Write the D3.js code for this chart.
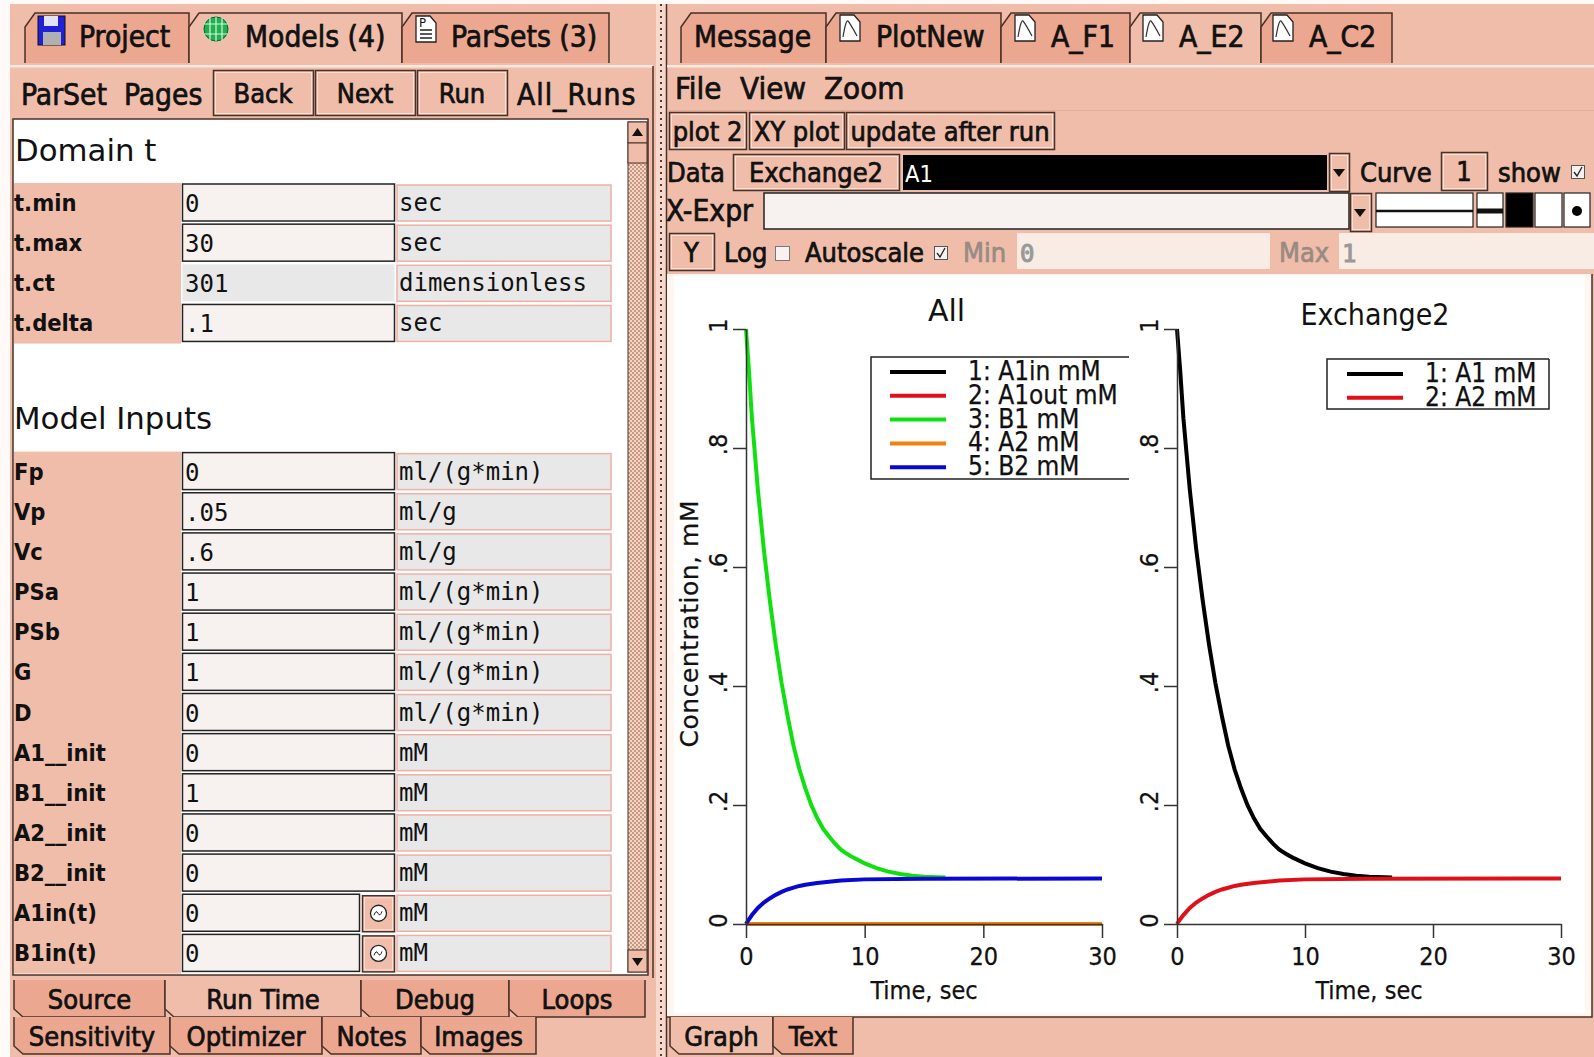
<!DOCTYPE html>
<html>
<head>
<meta charset="utf-8">
<title>A_E2</title>
<script src="https://cdn.jsdelivr.net/npm/d3@7"></script>
<style>
  html, body { margin: 0; padding: 0; background: #efbda9; }
  svg { display: block; }
  text { fill: #111; white-space: pre; }
  .ui { font-family: "DejaVu Sans Condensed", "DejaVu Sans", sans-serif; font-size: 27px; stroke: #111; stroke-width: 0.7px; }
  .big { font-size: 29.7px; }
  .lab { font-family: "DejaVu Sans Condensed", "DejaVu Sans", sans-serif; font-weight: bold; font-size: 23.5px; }
  .mono { font-family: "DejaVu Sans Mono", monospace; font-size: 24px; }
  .head { font-family: "DejaVu Sans", sans-serif; font-size: 30.8px; }
  .plot { font-family: "DejaVu Sans Condensed", "DejaVu Sans", sans-serif; font-size: 25px; stroke: #111; stroke-width: 0.25px; }
  .tick text { font-family: "DejaVu Sans Condensed", "DejaVu Sans", sans-serif; font-size: 25px; stroke: #111; stroke-width: 0.25px; }
</style>
</head>
<body>
<svg id="app" width="1594" height="1057"></svg>
<script>
// curve values
var decayTimes = [0, 0.25, 0.5, 1, 1.5, 2, 2.5, 3, 3.5, 4, 4.5, 5, 5.5, 6, 6.5, 7, 7.5, 8, 8.5, 9, 10, 11, 12, 13, 14, 15, 16.8];
var decayValues = [1, 0.93, 0.85, 0.73, 0.63, 0.545, 0.47, 0.405, 0.35, 0.3, 0.26, 0.228, 0.2, 0.178, 0.16, 0.147, 0.135, 0.125, 0.118, 0.112, 0.102, 0.094, 0.088, 0.084, 0.081, 0.0795, 0.078];
var riseTimes = [0, 0.25, 0.5, 1, 1.5, 2, 2.5, 3, 3.5, 4, 4.5, 5, 6, 7, 8, 10, 15, 30];
var riseValues = [0, 0.008, 0.015, 0.027, 0.036, 0.043, 0.049, 0.054, 0.058, 0.061, 0.064, 0.066, 0.069, 0.071, 0.073, 0.075, 0.076, 0.0765];
var flatTimes = [0, 30];
var flatValues = [0, 0];

var xTicks = [0, 10, 20, 30];
var yTicks = [0, 0.2, 0.4, 0.6, 0.8, 1];
var allNames = ['1: A1in mM', '2: A1out mM', '3: B1 mM', '4: A2 mM', '5: B2 mM'];
var exchangeNames = ['1: A1 mM', '2: A2 mM'];
var curveColors = ['#000000', '#e0101a', '#10e010', '#f08010', '#0808d0'];

// parameter tables: name, value, unit
var domainNames = ['t.min', 't.max', 't.ct', 't.delta'];
var domainValues = ['0', '30', '301', '.1'];
var domainUnits = ['sec', 'sec', 'dimensionless', 'sec'];
var inputNames = ['Fp', 'Vp', 'Vc', 'PSa', 'PSb', 'G', 'D', 'A1__init', 'B1__init', 'A2__init', 'B2__init', 'A1in(t)', 'B1in(t)'];
var inputValues = ['0', '.05', '.6', '1', '1', '1', '0', '0', '1', '0', '0', '0', '0'];
var inputUnits = ['ml/(g*min)', 'ml/g', 'ml/g', 'ml/(g*min)', 'ml/(g*min)', 'ml/(g*min)', 'ml/(g*min)', 'mM', 'mM', 'mM', 'mM', 'mM', 'mM'];

var topTabs = ['Project', 'Models (4)', 'ParSets (3)'];
var topTabEdges = [25, 189, 402, 609];
var plotTabs = ['Message', 'PlotNew', 'A_F1', 'A_E2', 'A_C2'];
var plotTabEdges = [681, 826, 1001, 1130, 1261, 1392];
var lowerTabs1 = ['Source', 'Run Time', 'Debug', 'Loops'];
var lowerEdges1 = [14, 165, 361, 509, 645];
var lowerTabs2 = ['Sensitivity', 'Optimizer', 'Notes', 'Images'];
var lowerEdges2 = [14, 170, 322, 421, 536];

var BG = '#efbda9', TAB = '#eba78f', EDGE = '#4a3028', FIELD = '#f7f2ef', GREY = '#e8e8e8', LIGHT = '#fbe9e0';

var svg = d3.select('#app');

var defs = svg.append('defs');
var stipple = defs.append('pattern').attr('id', 'stipple').attr('width', 4).attr('height', 4)
  .attr('patternUnits', 'userSpaceOnUse');
stipple.append('rect').attr('width', 4).attr('height', 4).attr('fill', '#f2d5c6');
stipple.append('rect').attr('width', 2).attr('height', 2).attr('fill', '#c99a80');
stipple.append('rect').attr('x', 2).attr('y', 2).attr('width', 2).attr('height', 2).attr('fill', '#c99a80');

function box(x, y, w, h, fill, stroke, sw) {
  return svg.append('rect').attr('x', x).attr('y', y).attr('width', w).attr('height', h)
    .attr('fill', fill || 'none').attr('stroke', stroke || 'none').attr('stroke-width', sw || 1);
}

function label(x, y, str, cls, anchor, color) {
  var t = svg.append('text').attr('x', x).attr('y', y).attr('class', cls || 'ui')
    .attr('text-anchor', anchor || 'start').text(str);
  if (color) t.style('fill', color).style('stroke', color);
  return t;
}

function button(x, y, w, h, str) {
  box(x + 0.5, y + 0.5, w, h, BG, EDGE, 1.5);
  box(x + 2.5, y + 2.5, w - 4, h - 4, 'none', '#fae0d5', 1);
  if (str) label(x + w / 2, y + h / 2 + 10, str, 'ui', 'middle');
}

function checkbox(x, y) {
  box(x + 0.5, y + 0.5, 13, 13, '#f7f2ef', '#555', 1);
  svg.append('path').attr('d', 'M' + (x + 3) + ' ' + (y + 7) + 'l3 4l5 -9').attr('fill', 'none').attr('stroke', '#222').attr('stroke-width', 1.3);
}

// tabs hanging from the top edge, corner cut at the top left
function topTabRow(names, edges, active, y0, y1) {
  names.forEach(function(name, i) {
    var x0 = edges[i], x1 = edges[i + 1];
    svg.append('path')
      .attr('d', 'M' + x0 + ' ' + y1 + 'V' + (y0 + 14) + 'L' + (x0 + 10) + ' ' + y0 + 'H' + x1 + 'V' + y1)
      .attr('fill', i === active ? BG : TAB).attr('stroke', EDGE).attr('stroke-width', 1.5);
  });
}

function lowerTabRow(names, edges, active, y0, y1) {
  names.forEach(function(name, i) {
    var x0 = edges[i], x1 = edges[i + 1];
    svg.append('path')
      .attr('d', 'M' + x0 + ' ' + y0 + 'V' + (y1 - 8) + 'L' + (x0 + 9) + ' ' + y1 + 'H' + x1 + 'V' + y0)
      .attr('fill', i === active ? BG : TAB).attr('stroke', EDGE).attr('stroke-width', 1.5);
    label((x0 + x1) / 2, y0 + 29, name, 'ui', 'middle');
  });
}

function pageIcon(x, y, curve) {
  svg.append('path').attr('d', 'M' + x + ' ' + y + 'h14l6 7v19h-20z').attr('fill', '#fff').attr('stroke', '#222').attr('stroke-width', 1.3);
  if (curve) {
    svg.append('path').attr('d', 'M' + (x + 3) + ' ' + (y + 22) + 'q3 -18 5 -16t9 15').attr('fill', 'none').attr('stroke', '#333').attr('stroke-width', 1.2);
  } else {
    svg.append('path').attr('d', 'M' + (x + 4) + ' ' + (y + 14) + 'h12M' + (x + 4) + ' ' + (y + 18) + 'h12M' + (x + 4) + ' ' + (y + 22) + 'h12').attr('stroke', '#222').attr('stroke-width', 1.5);
    label(x + 3, y + 11, 'P', 'mono').style('font-size', '12px');
  }
}

// left panel
topTabRow(topTabs, topTabEdges, 1, 13, 63);
box(38, 16, 27, 29, '#2020d8', '#111');
box(44, 16, 14, 10, '#dfe3f5');
box(43, 32, 18, 13, '#b0b0b0');
svg.append('circle').attr('cx', 216).attr('cy', 29).attr('r', 12).attr('fill', '#20b050').attr('stroke', '#063');
svg.append('path').attr('d', 'M204 24h24M204 34h24M210 18v22M216 17v24M222 18v22').attr('stroke', '#d8f5dc').attr('stroke-width', 1.2);
pageIcon(416, 16, false);
label(79, 47, 'Project', 'ui big');
label(245, 47, 'Models (4)', 'ui big');
label(451, 47, 'ParSets (3)', 'ui big');
box(10, 65, 643, 2.5, LIGHT);

label(21, 105, 'ParSet  Pages', 'ui big');
button(213, 70, 100, 45, 'Back');
button(315, 70, 100, 45, 'Next');
button(417, 70, 90, 45, 'Run');
label(517, 105, 'All_Runs', 'ui big').style('letter-spacing', '1px');

box(13, 119, 635, 856, '#fff', EDGE, 1.5);
label(15, 161, 'Domain t', 'head');
label(14, 429, 'Model Inputs', 'head');

function paramRows(names, values, units, first, withIcon) {
  var rowY = d3.scaleLinear().domain([0, 1]).range([first, first + 40.15]);
  box(14, rowY(0) - 20, 167, 40.15 * names.length, BG);
  names.forEach(function(name, i) {
    var cy = rowY(i);
    var readOnly = name === 't.ct';
    var iconRow = withIcon && /\(t\)/.test(name);
    box(182.5, cy - 19, iconRow ? 177 : 212, 37, readOnly ? GREY : FIELD, readOnly ? 'none' : '#222', 1.5);
    if (iconRow) {
      button(362, cy - 18, 32, 36);
      svg.append('circle').attr('cx', 378.5).attr('cy', cy).attr('r', 8).attr('fill', '#fff').attr('stroke', '#222').attr('stroke-width', 1.3);
      svg.append('path').attr('d', 'M' + 374 + ' ' + (cy + 2) + 'q2 -6 4 -2t4 -2').attr('fill', 'none').attr('stroke', '#222');
    }
    box(397, cy - 18, 214, 36, GREY, '#f0b0a4', 1.5);
    label(14, cy + 8, name, 'lab');
    label(185, cy + 9, values[i], 'mono');
    label(399, cy + 8, units[i], 'mono');
  });
}
paramRows(domainNames, domainValues, domainUnits, 203, false);
paramRows(inputNames, inputValues, inputUnits, 471.6, true);

// scrollbar
box(628, 122, 19, 850, 'url(#stipple)', EDGE, 1);
box(628, 122, 19, 21, BG, EDGE, 1);
box(628, 143, 19, 20, BG, EDGE, 1);
box(628, 950, 19, 22, BG, EDGE, 1);
svg.append('path').attr('d', 'M632 136l5.5 -8l5.5 8zM632 958l5.5 8l5.5 -8z').attr('fill', '#111');

lowerTabRow(lowerTabs1, lowerEdges1, 1, 980, 1017);
lowerTabRow(lowerTabs2, lowerEdges2, -1, 1017, 1054);

// sash
svg.append('path').attr('d', 'M653 66V978').attr('stroke', EDGE).attr('stroke-width', 1.5);
box(656, 4, 10, 1053, '#f6d8cc');
svg.append('path').attr('d', 'M661 4V1057').attr('stroke', '#5a3a30').attr('stroke-width', 2).attr('stroke-dasharray', '2 4');
svg.append('path').attr('d', 'M666.5 4V1057').attr('stroke', EDGE).attr('stroke-width', 1.5);

// right panel
topTabRow(plotTabs, plotTabEdges, 3, 13, 63);
label(694, 47, 'Message', 'ui big');
[840, 1015, 1143, 1273].forEach(function(x) { pageIcon(x, 15, true); });
label(876, 47, 'PlotNew', 'ui big');
label(1051, 47, 'A_F1', 'ui big');
label(1179, 47, 'A_E2', 'ui big');
label(1309, 47, 'A_C2', 'ui big');
box(667, 65, 927, 2.5, LIGHT);
label(675, 99, 'File', 'ui big').style('font-size', '31px');
label(740, 99, 'View', 'ui big').style('font-size', '31px');
label(824, 99, 'Zoom', 'ui big').style('font-size', '31px');
box(667, 110, 927, 1, '#e4ad97');

button(669, 112, 77, 37, 'plot 2');
button(749, 112, 95, 37, 'XY plot');
button(846, 112, 208, 37, 'update after run');

label(667, 182, 'Data');
button(733, 154, 166, 36, 'Exchange2');
box(903, 155, 424, 35, '#000');
label(905, 182, 'A1', 'lab').style('fill', '#fff').style('font-weight', 'normal');
button(1329, 153, 20, 38);
svg.append('path').attr('d', 'M1333 169h12l-6 8z').attr('fill', '#111');
label(1360, 182, 'Curve');
button(1441, 152, 46, 38, '1');
label(1498, 182, 'show');
checkbox(1571, 165);

label(666, 221, 'X-Expr', 'ui big');
box(764, 193, 585, 36, FIELD, '#222', 1.5);
button(1350, 193, 21, 38);
svg.append('path').attr('d', 'M1354 209h12l-6 8z').attr('fill', '#111');
box(1376, 193, 97, 34, '#fff', '#222', 1.2);
svg.append('path').attr('d', 'M1376 211H1473').attr('stroke', '#111').attr('stroke-width', 2.5);
box(1477, 193, 26, 34, '#fff', '#222', 1.2);
svg.append('path').attr('d', 'M1477 211H1503').attr('stroke', '#111').attr('stroke-width', 5);
box(1506, 193, 27, 34, '#000', '#222', 1.2);
box(1535, 193, 27, 34, '#fff', '#222', 1.2);
box(1564, 193, 26, 34, '#fff', '#222', 1.2);
svg.append('circle').attr('cx', 1577).attr('cy', 211).attr('r', 5).attr('fill', '#000');

button(669, 233, 45, 37, 'Y');
label(724, 262, 'Log');
box(775.5, 246.5, 14, 14, FIELD, '#777');
label(805, 262, 'Autoscale');
checkbox(934, 246);
label(963, 262, 'Min', 'ui', 'start', '#9a8a84');
box(1017, 233, 253, 36, '#f9ece5');
label(1020, 262, '0', 'mono', 'start', '#999');
label(1279, 262, 'Max', 'ui', 'start', '#9a8a84');
box(1339, 233, 255, 36, '#f9ece5');
label(1342, 262, '1', 'mono', 'start', '#999');

// graph area
box(667, 274, 925, 743, '#fff6ef');
box(674, 276, 911, 737, '#fff');
svg.append('path').attr('d', 'M667 1017H1592V274').attr('fill', 'none').attr('stroke', EDGE).attr('stroke-width', 1.5);

function zipped(ts, vs) {
  return ts.map(function(t, i) { return { t: t, v: vs[i] }; });
}

function drawPlot(opts) {
  var x = d3.scaleLinear().domain([0, 30]).range(opts.xRange);
  var y = d3.scaleLinear().domain([0, 1]).range([924, 329]);
  var line = d3.line().x(function(d) { return x(d.t); }).y(function(d) { return y(d.v); });
  var g = svg.append('g');

  g.selectAll('path.curve').data(opts.series).enter().append('path')
    .attr('class', 'curve')
    .attr('d', function(d) { return line(d.points); })
    .attr('fill', 'none')
    .attr('stroke', function(d) { return d.color; })
    .attr('stroke-width', 4);

  var xAxis = d3.axisBottom(x).tickValues(xTicks).tickSize(14).tickSizeOuter(0).tickFormat(d3.format('d'));
  var yAxis = d3.axisLeft(y).tickValues(yTicks).tickSize(13).tickSizeOuter(0)
    .tickFormat(function(d) { return String(d).replace('0.', '.'); });

  var gx = g.append('g').attr('transform', 'translate(0,924)').call(xAxis);
  gx.selectAll('text').attr('y', 23).attr('dy', '0.71em').style('fill', '#111');
  gx.selectAll('line, path').attr('stroke', '#333').attr('stroke-width', 1.5);

  var gy = g.append('g').attr('transform', 'translate(' + opts.xRange[0] + ',0)').call(yAxis);
  gy.selectAll('text')
    .attr('x', null).attr('dy', null)
    .attr('text-anchor', 'middle')
    .attr('transform', 'translate(-19,-4) rotate(-90)')
    .style('fill', '#111');
  gy.selectAll('line, path').attr('stroke', '#333').attr('stroke-width', 1.5);

  g.append('text').attr('class', 'plot').attr('x', (opts.xRange[0] + opts.xRange[1]) / 2).attr('y', 999)
    .attr('text-anchor', 'middle').text('Time, sec');
  return g;
}

var B1 = zipped(decayTimes, decayValues);
var B2 = zipped(riseTimes, riseValues);
var flat = zipped(flatTimes, flatValues);

drawPlot({
  xRange: [746, 1102],
  series: [
    { points: flat, color: curveColors[0] },
    { points: flat, color: curveColors[1] },
    { points: B1, color: curveColors[2] },
    { points: flat, color: curveColors[3] },
    { points: B2, color: curveColors[4] }
  ]
});
drawPlot({
  xRange: [1177, 1561],
  series: [
    { points: B1, color: curveColors[0] },
    { points: B2, color: curveColors[1] }
  ]
});

label(928, 321, 'All', 'head').style('font-size', '30px');
label(1375, 325, 'Exchange2', 'plot', 'middle').style('font-size', '30px').style('stroke-width', '0');
svg.append('text').attr('class', 'plot')
  .attr('transform', 'translate(698,624) rotate(-90)')
  .attr('text-anchor', 'middle')
  .attr('textLength', 247)
  .style('font-family', '"DejaVu Sans"')
  .text('Concentration, mM');

// legends
function legend(names, left, right, top, bottom, lineX, textX, closed) {
  var path = 'M' + right + ' ' + top + 'H' + left + 'V' + bottom + 'H' + right + (closed ? 'V' + top : '');
  svg.append('path').attr('d', path).attr('fill', '#fff').attr('stroke', '#222').attr('stroke-width', 1.5);
  var rowY = d3.scaleLinear().domain([0, 1]).range([top + 15, top + 38.8]);
  names.forEach(function(name, i) {
    svg.append('path').attr('d', 'M' + lineX + ' ' + rowY(i) + 'h56')
      .attr('stroke', curveColors[i]).attr('stroke-width', 4);
    label(textX, rowY(i) + 8, name, 'plot').style('font-size', '26px');
  });
}
legend(allNames, 871, 1129, 357, 479, 890, 968, false);
legend(exchangeNames, 1327, 1549, 359, 409, 1347, 1425, true);

// bottom tabs of the plot page
lowerTabRow(['Graph', 'Text'], [670, 773, 853], 0, 1017, 1054);

// white margins of the screenshot
box(0, 0, 10, 1057, '#fffaf7');
box(0, 0, 1594, 4, '#fffaf7');
</script>
</body>
</html>
